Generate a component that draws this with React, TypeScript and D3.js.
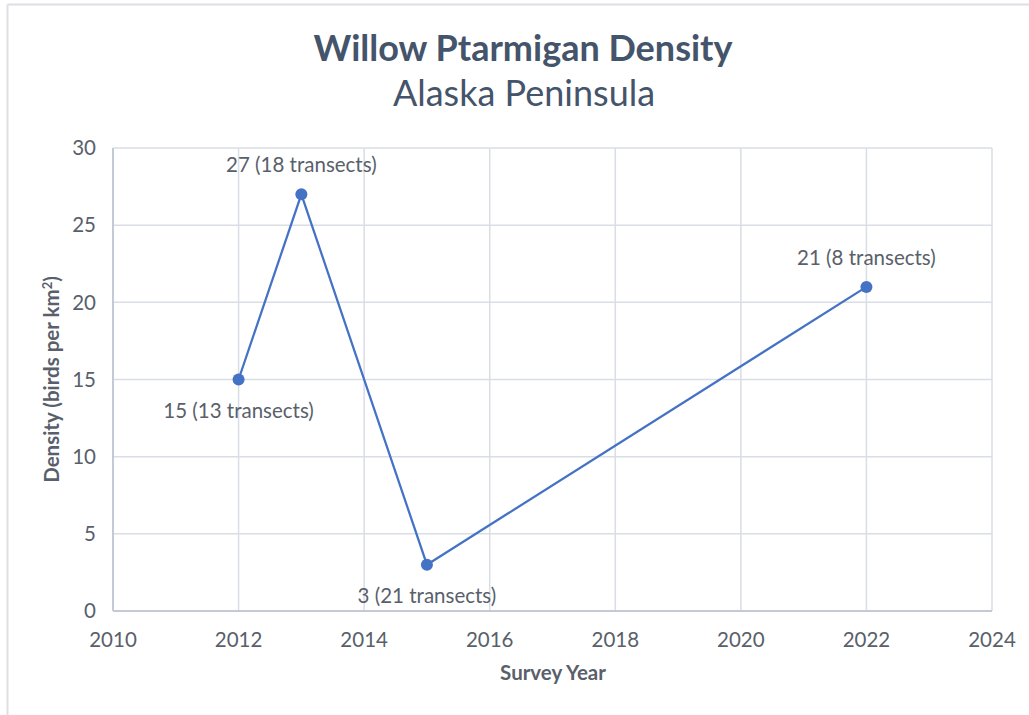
import React from "react";
import { scaleLinear, line } from "d3";

const years = [2012, 2013, 2015, 2022];
const density = [15, 27, 3, 21];
const transects = [13, 18, 21, 8];
const labelSide = ["below", "above", "below", "above"];
const xTicks = [2010, 2012, 2014, 2016, 2018, 2020, 2022, 2024];
const yTicks = [0, 5, 10, 15, 20, 25, 30];

const width = 1029;
const height = 715;
const margin = { top: 148, right: 37, bottom: 104, left: 113 };
const innerWidth = width - margin.left - margin.right;
const innerHeight = height - margin.top - margin.bottom;

const font = "Lato, 'Open Sans', sans-serif";
const textColor = "#595f6b";
const titleColor = "#44546a";
const gridColor = "#d9dde6";
const axisColor = "#c3cad6";
const seriesColor = "#4472c4";

const App = () => {
  const xScale = scaleLinear().domain([2010, 2024]).range([0, innerWidth]);
  const yScale = scaleLinear().domain([0, 30]).range([innerHeight, 0]);

  const points = years.map((yr, i) => ({ yr, v: density[i], t: transects[i], side: labelSide[i] }));
  const path = line<{ yr: number; v: number }>()
    .x(d => xScale(d.yr))
    .y(d => yScale(d.v))(points);

  return (
    <svg width={width} height={height} style={{ position: "absolute", left: 0, top: 0, background: "#fff" }}>
      {/* frame of the chart area */}
      <line x1={7.5} y1={4.5} x2={width} y2={4.5} stroke="#dcdfe3" strokeWidth={2} />
      <line x1={7.5} y1={4.5} x2={7.5} y2={height} stroke="#dcdfe3" strokeWidth={2} />

      <text x={523} y={61} textAnchor="middle" fontFamily={font} fontSize={36} fontWeight="bold" fill={titleColor}>
        Willow Ptarmigan Density
      </text>
      <text x={524} y={106} textAnchor="middle" fontFamily={font} fontSize={36} fill={titleColor}>
        Alaska Peninsula
      </text>

      <g transform={`translate(${margin.left},${margin.top})`}>
        {yTicks.map(t => (
          <g key={"y" + t} transform={`translate(0,${yScale(t)})`}>
            {t > 0 && <line x1={0} x2={innerWidth} stroke={gridColor} strokeWidth={1.5} />}
            <text x={-17} dy="0.35em" textAnchor="end" fontFamily={font} fontSize={20.5} fill={textColor}>{t}</text>
          </g>
        ))}
        {xTicks.map(t => (
          <g key={"x" + t} transform={`translate(${xScale(t)},0)`}>
            {t > 2010 && <line y1={0} y2={innerHeight} stroke={gridColor} strokeWidth={1.5} />}
            <text y={innerHeight + 36} textAnchor="middle" fontFamily={font} fontSize={20.5} fill={textColor}>{t}</text>
          </g>
        ))}
        <line x1={0} x2={innerWidth} y1={innerHeight} y2={innerHeight} stroke={axisColor} strokeWidth={2} />
        <line x1={0} x2={0} y1={0} y2={innerHeight} stroke={axisColor} strokeWidth={2} />

        <path d={path ?? ""} fill="none" stroke={seriesColor} strokeWidth={2.25} />
        {points.map(p => (
          <g key={p.yr}>
            <circle cx={xScale(p.yr)} cy={yScale(p.v)} r={6} fill={seriesColor} />
            <text
              x={xScale(p.yr)}
              y={yScale(p.v) + (p.side === "above" ? -22 : 38)}
              textAnchor="middle"
              fontFamily={font}
              fontSize={20.5}
              fill={textColor}
            >
              {`${p.v} (${p.t} transects)`}
            </text>
          </g>
        ))}
      </g>

      <text x={553} y={680} textAnchor="middle" fontFamily={font} fontSize={20.5} fontWeight="bold" fill={textColor}>
        Survey Year
      </text>
      <text
        transform={`translate(59,${margin.top + innerHeight / 2}) rotate(-90)`}
        textAnchor="middle"
        fontFamily={font}
        fontSize={20.5}
        fontWeight="bold"
        fill={textColor}
      >
        Density (birds per km<tspan dy={-7} fontSize={13}>2</tspan><tspan dy={7}>)</tspan>
      </text>
    </svg>
  );
};

export default App;
